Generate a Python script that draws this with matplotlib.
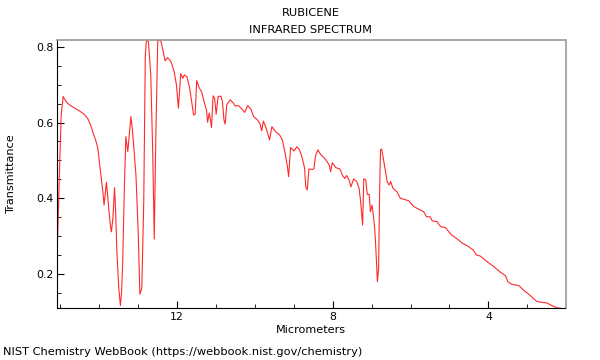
import matplotlib.pyplot as plt
from matplotlib.ticker import MultipleLocator

# spectrum (micrometers, transmittance)
micrometers = [15.06, 15.02, 14.97, 14.92, 14.84, 14.76, 14.62, 14.5, 14.38, 14.29,
               14.22, 14.16, 14.08, 14.03, 13.97, 13.9, 13.87, 13.84, 13.81, 13.78,
               13.75, 13.71, 13.68, 13.64, 13.6, 13.57, 13.54, 13.49, 13.45, 13.42,
               13.39, 13.35, 13.31, 13.26, 13.22, 13.18, 13.14, 13.11, 13.05, 12.99,
               12.95, 12.9, 12.85, 12.81, 12.78, 12.73, 12.67, 12.62, 12.58, 12.54,
               12.49, 12.41, 12.30, 12.24, 12.15, 12.07, 12.01, 11.96, 11.9, 11.85,
               11.81, 11.74, 11.67, 11.62, 11.57, 11.53, 11.49, 11.43, 11.36, 11.30,
               11.24, 11.21, 11.17, 11.15, 11.11, 11.07, 11.03, 10.99, 10.94, 10.87,
               10.83, 10.79, 10.76, 10.72, 10.63, 10.56, 10.5, 10.42, 10.33, 10.26,
               10.18, 10.10, 10.03, 9.93, 9.87, 9.82, 9.78, 9.72, 9.67, 9.62,
               9.56, 9.46, 9.36, 9.29, 9.22, 9.16, 9.13, 9.08, 8.99, 8.92,
               8.85, 8.78, 8.72, 8.69, 8.65, 8.61, 8.52, 8.48, 8.44, 8.38,
               8.31, 8.22, 8.15, 8.09, 8.05, 8.01, 7.92, 7.81, 7.75, 7.69,
               7.64, 7.58, 7.53, 7.46, 7.38, 7.32, 7.28, 7.23, 7.2, 7.15,
               7.11, 7.06, 7.03, 6.99, 6.96, 6.92, 6.89, 6.85, 6.82, 6.79,
               6.77, 6.74, 6.70, 6.64, 6.6, 6.55, 6.51, 6.45, 6.35, 6.26,
               6.17, 6.04, 5.92, 5.79, 5.66, 5.59, 5.50, 5.44, 5.32, 5.23,
               5.10, 4.97, 4.80, 4.67, 4.54, 4.39, 4.31, 4.21, 4.03, 3.86,
               3.69, 3.56, 3.50, 3.40, 3.22, 3.10, 2.92, 2.77, 2.67, 2.50,
               2.37, 2.24, 2.03]
transmittance = [0.30, 0.45, 0.62, 0.669, 0.655, 0.647, 0.638, 0.631, 0.622, 0.611,
                 0.595, 0.576, 0.552, 0.532, 0.479, 0.417, 0.382, 0.41, 0.442, 0.41,
                 0.374, 0.33, 0.311, 0.35, 0.428, 0.36, 0.258, 0.16, 0.116, 0.15,
                 0.232, 0.42, 0.563, 0.523, 0.57, 0.616, 0.58, 0.541, 0.461, 0.303,
                 0.146, 0.162, 0.391, 0.779, 0.82, 0.814, 0.726, 0.523, 0.292, 0.567,
                 0.818, 0.816, 0.763, 0.772, 0.761, 0.735, 0.699, 0.638, 0.73, 0.717,
                 0.726, 0.721, 0.691, 0.655, 0.62, 0.622, 0.711, 0.693, 0.68, 0.655,
                 0.633, 0.601, 0.625, 0.615, 0.587, 0.671, 0.664, 0.622, 0.669, 0.67,
                 0.656, 0.607, 0.596, 0.647, 0.66, 0.653, 0.644, 0.645, 0.636, 0.627,
                 0.645, 0.636, 0.616, 0.607, 0.598, 0.578, 0.604, 0.589, 0.573, 0.554,
                 0.589, 0.576, 0.567, 0.554, 0.519, 0.483, 0.457, 0.534, 0.525, 0.536,
                 0.528, 0.506, 0.48, 0.43, 0.422, 0.477, 0.476, 0.478, 0.512, 0.528,
                 0.516, 0.507, 0.498, 0.488, 0.470, 0.494, 0.481, 0.477, 0.461, 0.452,
                 0.460, 0.449, 0.43, 0.451, 0.444, 0.426, 0.391, 0.329, 0.451, 0.449,
                 0.41, 0.41, 0.364, 0.382, 0.36, 0.32, 0.267, 0.179, 0.214, 0.435,
                 0.528, 0.53, 0.506, 0.47, 0.444, 0.435, 0.444, 0.426, 0.417, 0.4,
                 0.397, 0.393, 0.378, 0.371, 0.364, 0.351, 0.351, 0.34, 0.338, 0.325,
                 0.322, 0.305, 0.292, 0.281, 0.274, 0.263, 0.25, 0.247, 0.232, 0.219,
                 0.204, 0.195, 0.179, 0.172, 0.169, 0.157, 0.142, 0.128, 0.125, 0.123,
                 0.116, 0.11, 0.107]

fig = plt.figure(figsize=(6, 3.6), dpi=100)
ax = fig.add_axes([0.0955, 0.1444, 0.847, 0.7445])

ax.plot(micrometers, transmittance, color='#ff2a2a', lw=0.8)

ax.set_xlim(15.07, 2.02)
ax.set_ylim(0.1095, 0.8185)
ax.xaxis.set_major_locator(MultipleLocator(4))
ax.xaxis.set_minor_locator(MultipleLocator(1))
ax.yaxis.set_major_locator(MultipleLocator(0.2))
ax.yaxis.set_minor_locator(MultipleLocator(0.05))
ax.tick_params(which='both', direction='in', labelsize=7.8, pad=3)
ax.tick_params(which='major', length=5)
ax.tick_params(which='minor', length=3)

for s in ['top', 'right']:
    ax.spines[s].set_color('#999999')
    ax.spines[s].set_linewidth(1.2)

ax.set_xlabel('Micrometers', fontsize=8.1, labelpad=2)
ax.set_ylabel('Transmittance', fontsize=8.1, labelpad=14)

fig.text(0.518, 0.965, 'RUBICENE', ha='center', va='center', fontsize=8.2)
fig.text(0.518, 0.917, 'INFRARED SPECTRUM', ha='center', va='center', fontsize=8.2)
fig.text(0.005, 0.021, 'NIST Chemistry WebBook (https://webbook.nist.gov/chemistry)',
         ha='left', va='center', fontsize=8.2)

fig.savefig('out.png')
